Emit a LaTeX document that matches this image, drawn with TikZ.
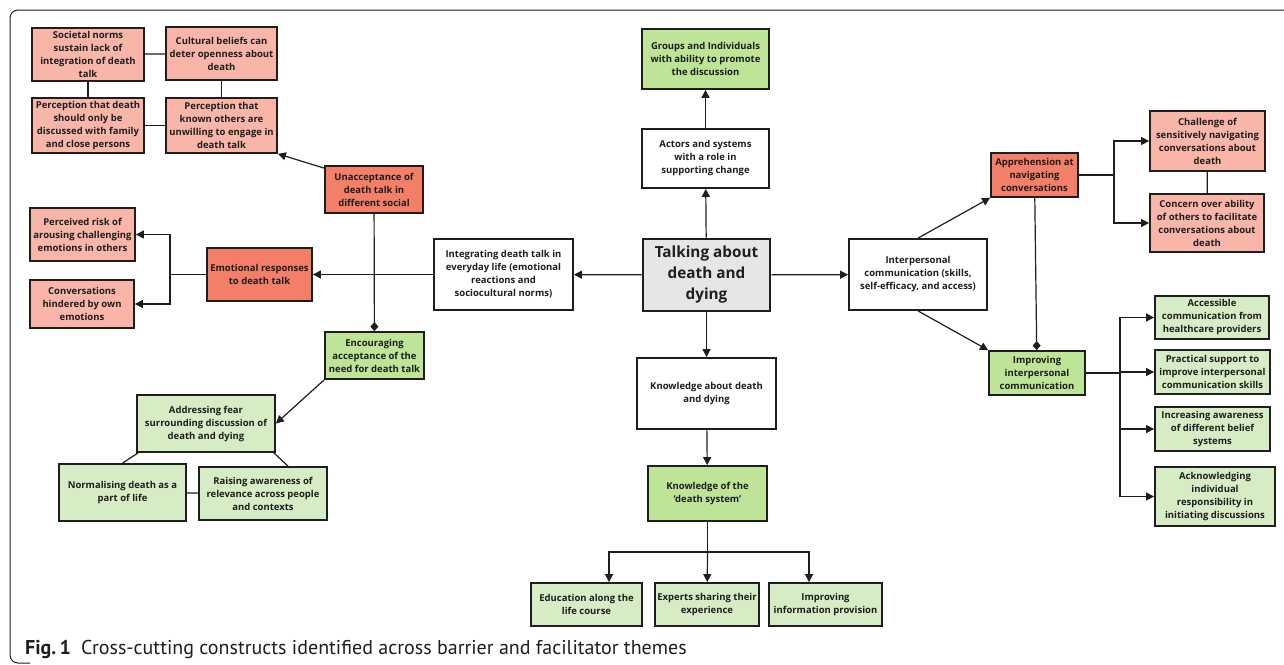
\documentclass[tikz,border=0pt]{standalone}
\usepackage{fontspec}
\setmainfont{Open Sans}
\newfontfamily\capfont{PT Sans}
\usetikzlibrary{arrows.meta}

\definecolor{pinklight}{RGB}{249,181,168}
\definecolor{pinkdark}{RGB}{244,127,105}
\definecolor{greenmid}{RGB}{190,228,152}
\definecolor{greenlight}{RGB}{213,236,196}
\definecolor{centregrey}{RGB}{230,230,230}
\definecolor{inkgrey}{RGB}{30,30,30}

\begin{document}
\begin{tikzpicture}[x=1pt,y=-1pt,
    box/.style={draw=inkgrey, line width=1.8pt, align=center, inner sep=1pt, text=inkgrey,
        font=\bfseries\fontsize{9.5}{13}\selectfont},
    pinkbox/.style={box, fill=pinklight},
    redbox/.style={box, fill=pinkdark},
    greenbox/.style={box, fill=greenmid},
    paleboxg/.style={box, fill=greenlight},
    whitebox/.style={box, fill=white},
    link/.style={draw=inkgrey, line width=1.2pt},
    arr/.style={link, -{Triangle[length=8pt,width=8pt]}},
    dia/.style={link, -{Diamond[length=9pt,width=8pt]}}]
    \useasboundingbox (0,0) rectangle (1284,664);
    \draw[inkgrey, line width=1pt, rounded corners=8pt] (1290,10) -- (10,10) -- (10,663) -- (30,663);

    % barriers: sociocultural norms
    \node[pinkbox, minimum width=112, minimum height=53] (socnorm) at (88,54.5) {Societal norms\\sustain lack of\\integration of death\\talk};
    \node[pinkbox, minimum width=111, minimum height=53] (cultbel) at (221.5,53.5) {Cultural beliefs can\\deter openness about\\death};
    \node[pinkbox, minimum width=112, minimum height=55] (percfam) at (88,125.5) {Perception that death\\should only be\\discussed with family\\and close persons};
    \node[pinkbox, minimum width=111, minimum height=55] (percoth) at (221.5,125.5) {Perception that\\known others are\\unwilling to engage in\\death talk};
    \node[redbox, minimum width=98, minimum height=47] (unaccept) at (374,189.5) {Unacceptance of\\death talk in\\different social};

    % barriers: emotions
    \node[pinkbox, minimum width=105, minimum height=53] (risk) at (82.5,234.5) {Perceived risk of\\arousing challenging\\emotions in others};
    \node[pinkbox, minimum width=104, minimum height=48] (hinder) at (82,304) {Conversations\\hindered by own\\emotions};
    \node[redbox, minimum width=105, minimum height=53] (emoresp) at (259.5,274.5) {Emotional responses\\to death talk};

    % facilitators: acceptance
    \node[greenbox, minimum width=99, minimum height=47] (encour) at (374.5,355.5) {Encouraging\\acceptance of the\\need for death talk};
    \node[paleboxg, minimum width=138, minimum height=57] (fear) at (206,423.5) {Addressing fear\\surrounding discussion of\\death and dying};
    \node[paleboxg, minimum width=127, minimum height=57] (normal) at (122.5,492.5) {Normalising death as a\\part of life};
    \node[paleboxg, minimum width=128, minimum height=53] (aware) at (263,493.5) {Raising awareness of\\relevance across people\\and contexts};

    % centre and main constructs
    \node[greenbox, minimum width=127, minimum height=60] (groups) at (705.5,59) {Groups and Individuals\\with ability to promote\\the discussion};
    \node[whitebox, minimum width=127, minimum height=59] (actors) at (705.5,158.5) {Actors and systems\\with a role in\\supporting change};
    \node[box, fill=centregrey, line width=2.6pt, minimum width=127, minimum height=72,
        font=\bfseries\fontsize{15.3}{21}\selectfont] (talk) at (706.5,275) {Talking about\\death and\\dying};
    \node[whitebox, minimum width=139, minimum height=71] (integr) at (503.5,274.5) {Integrating death talk in\\everyday life (emotional\\reactions and\\sociocultural norms)};
    \node[whitebox, minimum width=139, minimum height=71] (knowabout) at (706.5,393.5) {Knowledge about death\\and dying};
    \node[greenbox, minimum width=119, minimum height=55] (knowsys) at (707.5,493.5) {Knowledge of the\\‘death system’};
    \node[paleboxg, minimum width=111, minimum height=43] (educ) at (586.5,604.5) {Education along the\\life course};
    \node[paleboxg, minimum width=104, minimum height=43] (experts) at (707,604.5) {Experts sharing their\\experience};
    \node[paleboxg, minimum width=113, minimum height=43] (infoprov) at (825.5,604.5) {Improving\\information provision};

    % interpersonal communication
    \node[whitebox, minimum width=138, minimum height=71] (interp) at (918,274.5) {Interpersonal\\communication (skills,\\self-efficacy, and access)};
    \node[redbox, minimum width=87, minimum height=44] (apprehen) at (1034.5,175) {Apprehension at\\navigating\\conversations};
    \node[pinkbox, minimum width=115, minimum height=60] (challenge) at (1207.5,141) {Challenge of\\sensitively navigating\\conversations about\\death};
    \node[pinkbox, minimum width=114, minimum height=58] (concern) at (1207,223) {Concern over ability\\of others to facilitate\\conversations about\\death};
    \node[greenbox, minimum width=96, minimum height=44] (improve) at (1037,373) {Improving\\interpersonal\\communication};
    \node[paleboxg, minimum width=114, minimum height=43] (access) at (1212,317.5) {Accessible\\communication from\\healthcare providers};
    \node[paleboxg, minimum width=115, minimum height=44] (practical) at (1212.5,372) {Practical support to\\improve interpersonal\\communication skills};
    \node[paleboxg, minimum width=115, minimum height=44] (beliefs) at (1212.5,429) {Increasing awareness\\of different belief\\systems};
    \node[paleboxg, minimum width=120, minimum height=59] (respons) at (1215,496.5) {Acknowledging\\individual\\responsibility in\\initiating discussions};

    % fork points
    \coordinate (emofork) at (170,274.5);
    \coordinate (sysfork) at (707.5,552);
    \coordinate (apprfork) at (1114,175);
    \coordinate (imprfork) at (1120,373);

    % connectors, left side
    \draw[link] (socnorm) -- (cultbel);
    \draw[link] (socnorm) -- (percfam);
    \draw[link] (percfam) -- (percoth);
    \draw[link] (cultbel) -- (percoth);
    \draw[arr] ([yshift=-3pt]unaccept.north west) -- (percoth.south east);
    \draw[dia] (unaccept) -- (encour);
    \draw[arr] (integr) -- (emoresp);
    \draw[link] (emoresp) -- (emofork);
    \draw[arr] (emofork) |- (risk);
    \draw[arr] (emofork) |- (hinder);
    \draw[arr] (encour.south west) -- (fear.east);
    \draw[link] ([xshift=2pt]fear.south west) -- (normal.north);
    \draw[link] ([xshift=-2pt]fear.south east) -- ([xshift=25pt]aware.north);
    \draw[link] (normal) -- (aware);

    % connectors, centre
    \draw[arr] (talk) -- (actors);
    \draw[arr] (actors) -- (groups);
    \draw[arr] (talk) -- (integr);
    \draw[arr] (talk) -- (interp);
    \draw[arr] (talk) -- (knowabout);
    \draw[arr] (knowabout) -- (knowsys);
    \draw[link] (knowsys) -- (sysfork);
    \draw[arr] (sysfork) -| ([xshift=22.5pt]educ.north);
    \draw[arr] (sysfork) -- (experts);
    \draw[arr] (sysfork) -| ([xshift=-16.5pt]infoprov.north);

    % connectors, right side
    \draw[arr] (interp.north) -- (apprehen.south west);
    \draw[arr] (interp.south) -- (improve.north west);
    \draw[dia] (apprehen) -- (improve);
    \draw[link] (apprehen) -- (apprfork);
    \draw[arr] (apprfork) |- (challenge);
    \draw[arr] (apprfork) |- (concern);
    \draw[link] (challenge) -- (concern);
    \draw[link] (improve) -- (imprfork);
    \draw[arr] (imprfork) |- (access);
    \draw[arr] (imprfork) |- (practical);
    \draw[arr] (imprfork) |- (beliefs);
    \draw[arr] (imprfork) |- (respons);

    % caption
    \node[anchor=base west, inner sep=0pt, text=inkgrey, font=\capfont\fontsize{20}{22}\selectfont] (caption) at (25,654)
        {\textbf{Fig.\,1}\hspace{10pt}Cross-cutting constructs identified across barrier and facilitator themes};
\end{tikzpicture}
\end{document}
